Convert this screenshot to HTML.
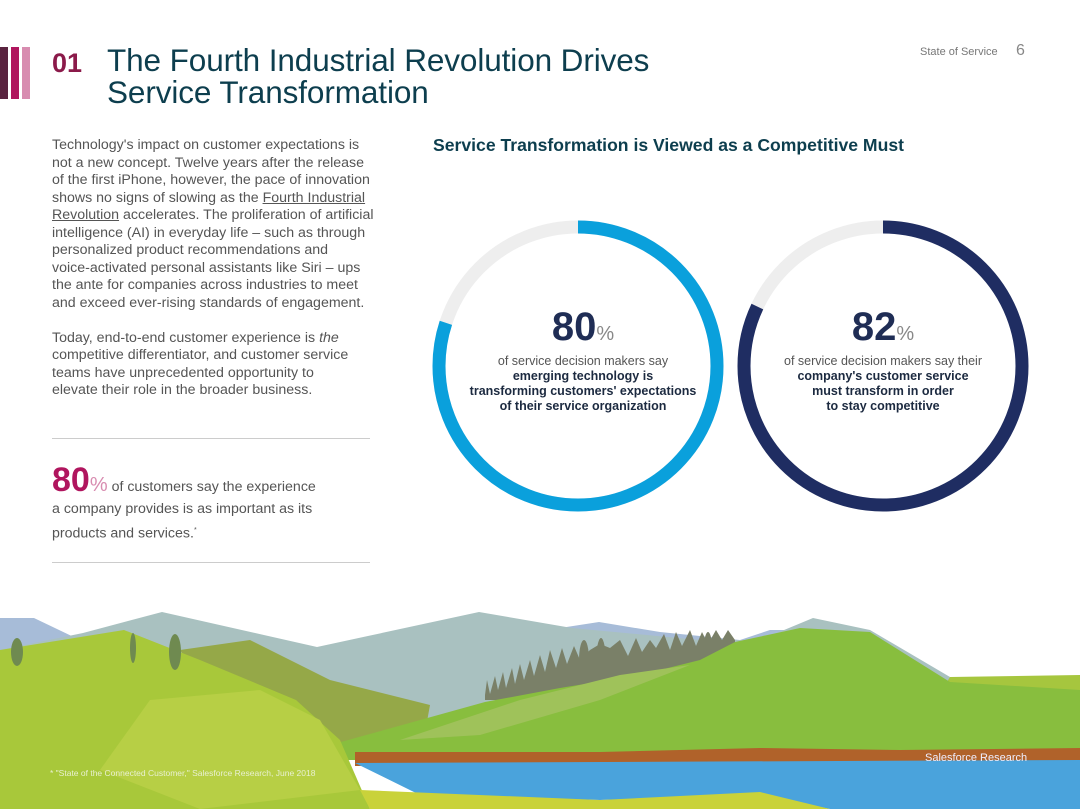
<!DOCTYPE html>
<html><head><meta charset="utf-8"><style>
*{margin:0;padding:0;box-sizing:border-box}
body{width:1080px;height:809px;overflow:hidden;background:#fff;font-family:"Liberation Sans",sans-serif;position:relative}
.a{position:absolute}
.title{left:107px;top:44px;font-size:31.5px;line-height:32px;color:#0d3e4e;letter-spacing:-0.1px;white-space:nowrap}
.num{left:52px;top:48px;font-size:27px;font-weight:bold;color:#8b1a4a}
.body{left:52px;top:137px;font-size:14.2px;line-height:17.5px;color:#555;white-space:nowrap}
.body u{text-decoration:underline}
.hd{left:433px;top:135px;font-size:17.6px;font-weight:bold;color:#0d3e4e;white-space:nowrap}
.ct{text-align:center;color:#555;font-size:12.5px;line-height:15px}
.ct b{color:#1c2a40}
.big{font-size:40px;font-weight:bold;color:#1f2d55;line-height:40px}
.big span{font-size:20px;font-weight:normal;color:#888}
hr{position:absolute;border:0;border-top:1px solid #ccc;left:52px;width:318px}
</style></head><body>
<div class="a" style="left:0;top:47px;width:8px;height:52px;background:#5a2440"></div>
<div class="a" style="left:11px;top:47px;width:8px;height:52px;background:#b0155e"></div>
<div class="a" style="left:22px;top:47px;width:8px;height:52px;background:#d88cb0"></div>
<div class="a num">01</div>
<div class="a title">The Fourth Industrial Revolution Drives<br>Service Transformation</div>
<div class="a" style="left:920px;top:46px;font-size:11px;color:#777">State of Service</div>
<div class="a" style="left:1016px;top:42px;font-size:16px;color:#888">6</div>
<div class="a body">Technology's impact on customer expectations is<br>not a new concept. Twelve years after the release<br>of the first iPhone, however, the pace of innovation<br>shows no signs of slowing as the <u>Fourth Industrial</u><br><u>Revolution</u> accelerates. The proliferation of artificial<br>intelligence (AI) in everyday life – such as through<br>personalized product recommendations and<br>voice-activated personal assistants like Siri – ups<br>the ante for companies across industries to meet<br>and exceed ever-rising standards of engagement.<br><br>Today, end-to-end customer experience is <i>the</i><br>competitive differentiator, and customer service<br>teams have unprecedented opportunity to<br>elevate their role in the broader business.</div>
<hr style="top:438px">
<div class="a" style="left:52px;top:470px;font-size:14.2px;line-height:21.5px;color:#555;white-space:nowrap"><span style="font-size:34px;font-weight:bold;color:#b0155e">80</span><span style="font-size:20px;color:#d88cb0">%</span> of customers say the experience<br>a company provides is as important as its<br>products and services.<sup style="font-size:7px">*</sup></div>
<hr style="top:562px">
<div class="a hd">Service Transformation is Viewed as a Competitive Must</div>
<svg class="a" style="left:0;top:0" width="1080" height="809">
<circle cx="578" cy="366" r="139" fill="none" stroke="#eeeeee" stroke-width="13"/>
<circle cx="578" cy="366" r="139" fill="none" stroke="#0aa0dc" stroke-width="13" stroke-dasharray="698.7 900" transform="rotate(-90 578 366)"/>
<circle cx="883" cy="366" r="139" fill="none" stroke="#eeeeee" stroke-width="13"/>
<circle cx="883" cy="366" r="139" fill="none" stroke="#1f2d62" stroke-width="13" stroke-dasharray="716.2 900" transform="rotate(-90 883 366)"/>
</svg>
<div class="a ct" style="left:438px;top:307px;width:290px"><div class="big">80<span>%</span></div>of service decision makers say<br><b>emerging technology is<br>transforming customers' expectations<br>of their service organization</b></div>
<div class="a ct" style="left:738px;top:307px;width:290px"><div class="big">82<span>%</span></div>of service decision makers say their<br><b>company's customer service<br>must transform in order<br>to stay competitive</b></div>
<svg class="a" style="left:0;top:600px" width="1080" height="209" viewBox="0 600 1080 209">
<polygon points="0,618 34,618 80,640 0,660" fill="#a7bcd8"/>
<polygon points="560,628 599,622 660,632 740,640 770,630 800,630 780,650 600,660" fill="#a7bcd8"/>
<polygon points="0,650 83,633 162,612 317,647 479,612 572,628 700,640 760,640 813,618 870,630 950,677 950,760 0,760" fill="#a9c1c0"/>
<polygon points="950,677 1080,675 1080,760 900,760" fill="#a6c63e"/>
<polygon points="180,650 250,640 330,680 430,705 420,760 250,760" fill="#95a848"/>
<g fill="#7a8068">
<polygon points="485,695 487,680 490,694 495,676 498,690 503,672 506,688 512,668 515,684 520,664 524,680 530,660 534,676 540,655 545,672 550,650 556,668 562,648 567,664 574,646 580,660 590,650 600,644 610,648 620,640 628,656 636,638 642,652 650,640 656,648 664,634 670,650 676,632 682,646 690,630 696,646 702,632 708,644 716,630 722,640 728,630 735,640 735,655 650,680 560,700 485,700"/>
<ellipse cx="584" cy="660" rx="5" ry="20"/><ellipse cx="601" cy="664" rx="5" ry="26"/><ellipse cx="655" cy="665" rx="14" ry="12"/><ellipse cx="708" cy="648" rx="4" ry="16"/>
</g>
<polygon points="330,745 485,702 560,688 640,675 700,660 735,642 800,628 870,632 950,682 1080,690 1080,760 330,760" fill="#88be3e"/>
<polygon points="400,740 520,700 620,675 690,665 600,700 480,735" fill="#9fc25a"/>
<polygon points="0,650 124,630 200,660 296,700 340,740 370,809 0,809" fill="#a8c83a"/>
<polygon points="150,700 260,690 320,720 360,790 200,809 100,770" fill="#b7cf45"/>
<polygon points="355,752 600,752 760,748 900,750 1080,748 1080,764 355,766" fill="#b0622a"/>
<polygon points="355,763 1080,760 1080,809 830,809 760,795 600,800 420,795" fill="#4aa3dc"/>
<polygon points="360,790 600,800 760,792 830,809 370,809" fill="#c9d23a"/>
<g fill="#6f8a50">
<ellipse cx="133" cy="648" rx="3" ry="15"/><ellipse cx="175" cy="652" rx="6" ry="18"/>
<ellipse cx="17" cy="652" rx="6" ry="14"/>
</g>
</svg>
<div class="a" style="left:50px;top:768px;font-size:8.5px;color:#e8f0d0">* "State of the Connected Customer," Salesforce Research, June 2018</div>
<div class="a" style="left:925px;top:752px;font-size:11px;color:#eef">Salesforce Research</div>
</body></html>
